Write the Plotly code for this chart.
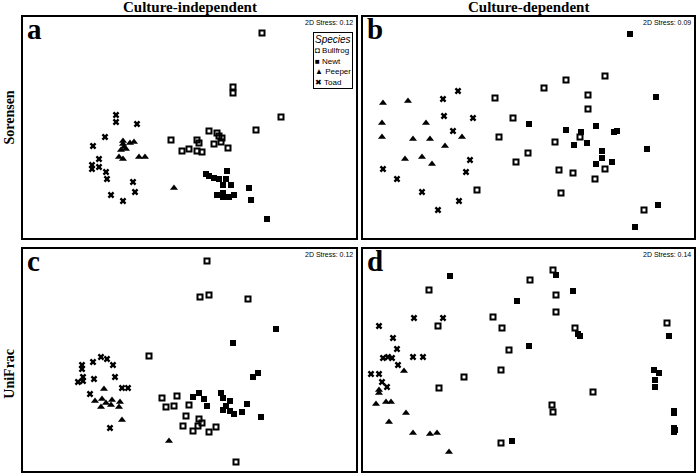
import plotly.graph_objects as go

# NMDS scores (arbitrary units, y up), one list per panel/species
species = ["Bullfrog", "Newt", "Peeper", "Toad"]
legend_glyphs = ["◘", "■", "▲", "✖"]
panels = ["a", "b", "c", "d"]
stress = {"a": "0.12", "b": "0.09", "c": "0.12", "d": "0.14"}
col_titles = ["Culture-independent", "Culture-dependent"]
row_titles = ["Sorensen", "UniFrac"]

a_bullfrog = [(239,205),(210,151),(210,145),(258,121),(148,98),(159,87),(166,89),(174,98),(176,95),
              (174,87),(179,86),(186,107),(191,94),(194,105),(196,102),(199,100),(198,96),(205,90),(233,108)]
a_newt = [(183,64),(186,62),(191,60),(196,59),(204,67),(203,59),(200,53),(208,53),(194,43),(200,45),
          (200,41),(206,41),(211,43),(226,50),(228,38),(244,19)]
a_peeper = [(100,97),(100,94),(101,91),(103,89),(107,95),(111,96),(96,81),(100,79),(116,81),(122,81),
            (98,88),(151,50)]
a_toad = [(93,123),(93,116),(114,114),(82,101),(70,92),(76,79),(69,73),(69,69),(76,71),(83,66),(84,59),
          (110,56),(112,46),(88,43),(100,37)]

b_bullfrog = [(203,158),(242,162),(181,150),(132,140),(225,143),(225,129),(150,120),(136,101),(217,101),
              (192,96),(165,85),(153,76),(196,68),(210,65),(242,69),(232,59),(114,48),(198,45),(281,28)]
b_newt = [(267,204),(293,141),(166,114),(203,108),(218,106),(233,112),(251,106),(254,107),(211,93),
          (224,95),(284,89),(239,87),(239,80),(249,76),(233,74),(295,33),(272,11)]
b_peeper = [(20,135),(45,137),(19,115),(63,115),(99,101),(19,101),(50,99),(67,99),(82,92),(42,79),
            (59,81),(69,74)]
b_toad = [(95,147),(80,139),(81,122),(110,120),(90,107),(107,78),(103,66),(20,69),(34,59),(59,46),
          (96,37),(75,28)]

c_bullfrog = [(184,210),(177,174),(186,176),(225,172),(126,115),(139,73),(143,64),(151,65),(154,75),
              (166,66),(163,55),(160,45),(170,40),(176,52),(179,48),(175,45),(186,39),(193,44),(213,9)]
c_newt = [(253,142),(210,128),(230,94),(235,98),(170,74),(176,78),(181,72),(184,65),(198,78),(200,73),
          (207,70),(203,65),(200,61),(207,60),(211,57),(219,59),(224,67),(238,54)]
c_peeper = [(81,82),(72,70),(79,72),(83,68),(78,64),(88,66),(89,71),(97,69),(96,64),(99,51),(146,30)]
c_toad = [(78,114),(84,112),(70,109),(90,106),(59,106),(59,102),(60,94),(55,89),(60,90),(71,92),(92,94),
          (99,83),(105,83),(67,77),(87,43)]

d_bullfrog = [(66,181),(167,191),(190,201),(193,176),(193,159),(130,154),(75,145),(139,143),(212,143),
              (304,148),(146,121),(138,101),(101,94),(76,83),(230,79),(189,66),(190,59),(138,28)]
d_newt = [(87,195),(193,196),(210,180),(154,170),(215,137),(217,135),(306,135),(166,125),(291,101),
          (296,98),(292,91),(292,84),(311,60),(311,58),(311,43),(312,41),(311,39),(149,30)]
d_peeper = [(41,100),(16,81),(16,78),(13,67),(23,69),(28,69),(43,58),(26,49),(50,38),(67,37),(74,38),(86,19)]
d_toad = [(51,153),(80,153),(16,145),(30,133),(34,122),(50,114),(60,114),(20,113),(25,114),(29,113),
          (35,106),(8,97),(16,97),(19,89),(24,84)]

data = {
    "a": [a_bullfrog, a_newt, a_peeper, a_toad],
    "b": [b_bullfrog, b_newt, b_peeper, b_toad],
    "c": [c_bullfrog, c_newt, c_peeper, c_toad],
    "d": [d_bullfrog, d_newt, d_peeper, d_toad],
}
x_ranges = {"a": [0, 333], "b": [0, 331], "c": [0, 333], "d": [0, 331]}
y_ranges = {"a": [0, 221], "b": [0, 221], "c": [0, 222], "d": [0, 222]}

W, H = 696, 473
xdom = {"a": [23/W, 356/W], "b": [363/W, 694/W], "c": [23/W, 356/W], "d": [363/W, 694/W]}
ydom = {"a": [1-238/H, 1-17/H], "b": [1-238/H, 1-17/H], "c": [1-471/H, 1-249/H], "d": [1-471/H, 1-249/H]}

styles = {
    "Bullfrog": dict(symbol="square-open", size=5, color="black", line=dict(width=2, color="black")),
    "Newt": dict(symbol="square", size=6, color="black", line=dict(width=0)),
    "Peeper": dict(symbol="triangle-up", size=7, color="black", line=dict(width=0)),
    "Toad": dict(symbol="x", size=6, color="black", line=dict(width=0)),
}

fig = go.Figure()
layout = dict(width=W, height=H, margin=dict(l=0, r=0, t=0, b=0),
              paper_bgcolor="white", plot_bgcolor="white", showlegend=False)
annotations = []
for i, p in enumerate(panels):
    suf = "" if i == 0 else str(i + 1)
    for sp, pts in zip(species, data[p]):
        fig.add_trace(go.Scatter(
            x=[q[0] for q in pts], y=[q[1] for q in pts], mode="markers", name=sp,
            marker=styles[sp], legendgroup=sp,
            xaxis="x" + suf, yaxis="y" + suf, hoverinfo="skip"))
    ax = dict(showgrid=False, zeroline=False, showticklabels=False, ticks="",
              showline=True, mirror=True, linecolor="black", linewidth=2)
    layout["xaxis" + suf] = dict(ax, domain=xdom[p], range=x_ranges[p], anchor="y" + suf)
    layout["yaxis" + suf] = dict(ax, domain=ydom[p], range=y_ranges[p], anchor="x" + suf)
    annotations.append(dict(text="<b>" + p + "</b>", xref="x" + suf + " domain", yref="y" + suf + " domain",
                            x=0, y=1, xanchor="left", yanchor="top", xshift=2, yshift=6, showarrow=False,
                            font=dict(family="Liberation Serif", size=29, color="black")))
    annotations.append(dict(text="2D Stress: " + stress[p], xref="x" + suf + " domain", yref="y" + suf + " domain",
                            x=1, y=1, xanchor="right", yanchor="top", xshift=-1, yshift=0, showarrow=False,
                            font=dict(family="Liberation Sans", size=7, color="black")))

for t, p in zip(col_titles, ["a", "b"]):
    annotations.append(dict(text="<b>" + t + "</b>", xref="paper", yref="paper",
                            x=(xdom[p][0] + xdom[p][1]) / 2, y=1, xanchor="center", yanchor="top",
                            yshift=3, showarrow=False,
                            font=dict(family="Liberation Serif", size=15, color="black")))
for t, p, dy in zip(row_titles, ["a", "c"], [0.02, -0.03]):
    annotations.append(dict(text="<b>" + t + "</b>", xref="paper", yref="paper", textangle=-90,
                            x=0, y=(ydom[p][0] + ydom[p][1]) / 2 + dy, xanchor="left", yanchor="middle",
                            showarrow=False, font=dict(family="Liberation Serif", size=14, color="black")))

# species key (boxed, as in the original figure)
key_text = "<span style='font-size:10px'><i>Species</i></span><br>" + "<br>".join(
    g + " " + s for g, s in zip(legend_glyphs, species))
annotations.append(dict(text=key_text, xref="x domain", yref="y domain", x=1, y=1,
                        xanchor="right", yanchor="top", xshift=-3, yshift=-15, align="left",
                        showarrow=False, bgcolor="white", bordercolor="black", borderwidth=1, borderpad=1,
                        font=dict(family="Liberation Sans", size=8, color="black")))

layout["annotations"] = annotations
fig.update_layout(**layout)
fig.write_html("out.html", config={"displayModeBar": False},
               post_script="document.body.style.margin='0';")
